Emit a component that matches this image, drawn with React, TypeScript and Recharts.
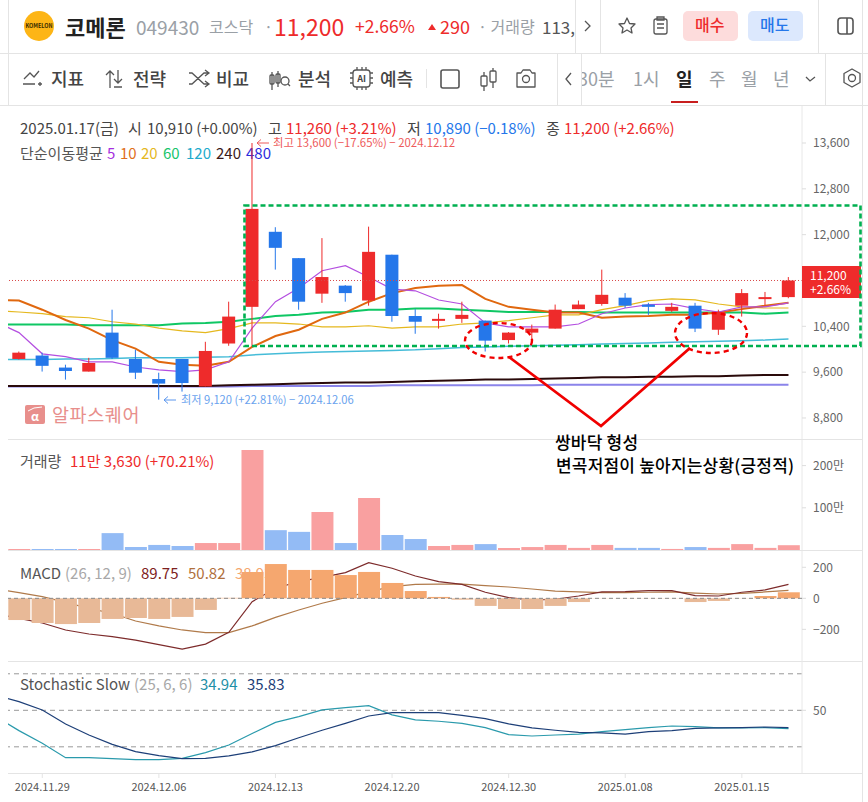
import React from "react";
import { ComposedChart, Bar, Line, Cell, XAxis, YAxis, ReferenceLine } from "recharts";

const FONT = '"Noto Sans CJK KR", "Noto Sans", sans-serif';
const RED = "#ee2b2b";
const BLUE = "#2577ea";

const dates = [
  "2024.11.28", "2024.11.29", "2024.12.02", "2024.12.03", "2024.12.04", "2024.12.05", "2024.12.06", "2024.12.09", "2024.12.10",
  "2024.12.11", "2024.12.12", "2024.12.13", "2024.12.16", "2024.12.17", "2024.12.18", "2024.12.19", "2024.12.20", "2024.12.23",
  "2024.12.24", "2024.12.26", "2024.12.27", "2024.12.30", "2025.01.02", "2025.01.03", "2025.01.06", "2025.01.07", "2025.01.08",
  "2025.01.09", "2025.01.10", "2025.01.13", "2025.01.14", "2025.01.15", "2025.01.16", "2025.01.17",
];
const opens = [9830, 9890, 9680, 9610, 10290, 9830, 9480, 9830, 9350, 10100, 10740, 12050, 11590, 10970, 11110, 10850, 11650, 10580, 10500, 10530, 10500, 10160, 10290, 10360, 10700, 10790, 10900, 10780, 10670, 10760, 10340, 10760, 10880, 10910];
const highs = [9960, 9940, 9730, 9850, 10690, 9990, 9590, 9830, 10130, 10830, 13600, 12130, 11590, 11940, 11120, 12140, 11650, 10700, 10620, 10830, 10500, 10300, 10430, 10780, 10850, 11390, 10980, 10810, 10810, 10810, 10690, 11050, 11000, 11260];
const lows = [9820, 9610, 9470, 9610, 9830, 9480, 9120, 9260, 9350, 10060, 10040, 11390, 10690, 10810, 10830, 10760, 10480, 10270, 10360, 10460, 9960, 10100, 10160, 10360, 10700, 10760, 10720, 10600, 10650, 10300, 10250, 10570, 10760, 10890];
const closes = [9940, 9710, 9620, 9760, 9850, 9590, 9400, 9410, 9970, 10570, 12450, 11770, 10830, 11260, 10980, 11700, 10580, 10480, 10530, 10600, 10150, 10290, 10360, 10690, 10780, 10950, 10760, 10740, 10740, 10360, 10650, 10980, 10910, 11200];
const volumes = [24000, 24000, 24000, 24000, 400000, 70000, 120000, 95000, 165000, 165000, 2370000, 470000, 430000, 900000, 165000, 1230000, 355000, 260000, 95000, 120000, 140000, 50000, 70000, 120000, 50000, 120000, 50000, 50000, 25000, 70000, 50000, 140000, 50000, 113630];
const hist = [-140, -159, -166, -159, -133, -127, -133, -120, -75, 3, 170, 221, 183, 183, 150, 170, 99, 47, 9, -9, -49, -69, -69, -49, -24, 1, 1, 1, 1, -24, -17, 1, 15, 38.93];

// moving averages and oscillators start one session before the first visible candle
const ma5 = [10480, 10290, 9920, 9870, 9780, 9780, 9690, 9640, 9610, 9640, 9780, 10370, 10830, 11070, 11370, 11460, 11260, 11050, 11020, 10860, 10790, 10460, 10390, 10390, 10390, 10440, 10620, 10720, 10780, 10790, 10710, 10650, 10740, 10740, 10810];
const ma10 = [10860, 10850, 10690, 10510, 10360, 10160, 10010, 9780, 9730, 9710, 9780, 10040, 10230, 10340, 10530, 10640, 10830, 10980, 11070, 11110, 11120, 10880, 10740, 10690, 10640, 10640, 10550, 10570, 10580, 10600, 10600, 10640, 10700, 10760, 10810];
const ma20 = [10670, 10650, 10620, 10570, 10550, 10480, 10440, 10370, 10320, 10290, 10360, 10460, 10460, 10440, 10390, 10390, 10410, 10370, 10390, 10390, 10440, 10460, 10500, 10550, 10600, 10600, 10690, 10760, 10850, 10880, 10860, 10790, 10740, 10720, 10720];
const ma60 = [10430, 10430, 10430, 10430, 10420, 10420, 10420, 10420, 10450, 10460, 10480, 10530, 10580, 10600, 10640, 10650, 10690, 10690, 10710, 10710, 10690, 10670, 10650, 10650, 10650, 10650, 10640, 10640, 10640, 10640, 10640, 10640, 10640, 10620, 10640];
const ma120 = [9820, 9820, 9820, 9830, 9830, 9840, 9850, 9850, 9850, 9860, 9870, 9900, 9920, 9940, 9950, 9960, 9970, 9980, 9990, 10010, 10030, 10040, 10050, 10060, 10070, 10080, 10090, 10100, 10110, 10120, 10130, 10140, 10150, 10160, 10180];
const ma240 = [9360, 9360, 9360, 9360, 9360, 9360, 9360, 9360, 9360, 9360, 9370, 9380, 9390, 9400, 9410, 9420, 9420, 9430, 9440, 9450, 9460, 9470, 9470, 9480, 9490, 9500, 9510, 9510, 9520, 9520, 9530, 9530, 9540, 9550, 9550];
const ma480 = [9350, 9350, 9350, 9350, 9350, 9350, 9350, 9350, 9350, 9350, 9350, 9360, 9360, 9360, 9360, 9360, 9360, 9370, 9370, 9370, 9370, 9370, 9370, 9370, 9380, 9380, 9380, 9380, 9380, 9380, 9380, 9380, 9380, 9380, 9380];
const macdLine = [-100, -129, -159, -204, -230, -247, -269, -299, -327, -295, -219, -22, 65, 108, 135, 166, 230, 194, 144, 108, 90, 39, 4, -11, -6, 15, 41, 43, 49, 49, 17, 15, 39, 54, 89.75];
const signalLine = [60, 37, 11, -26, -65, -97, -146, -178, -204, -221, -221, -178, -123, -75, -32, 4, 43, 75, 90, 92, 92, 82, 73, 60, 47, 41, 37, 37, 39, 41, 34, 28, 32, 41, 50.82];
const stochK = [44.8, 33.3, 22.9, 11.1, 11.1, 10.3, 9.5, 9.5, 10.5, 15.2, 21.5, 31, 40.1, 44.8, 50.3, 52.2, 53.8, 46.2, 42.1, 41, 39.3, 35.8, 30, 28.9, 29.7, 30.5, 32.5, 34.1, 35.8, 37.1, 36.6, 35.5, 35.5, 35.8, 34.94];
const stochD = [62.6, 57.1, 50.3, 38.8, 29.7, 22, 16, 12.7, 10.3, 10.5, 12.5, 15.8, 21, 27.5, 33.6, 39.3, 45.3, 48.1, 48.1, 48.1, 45.9, 43.2, 38.8, 35.5, 33.6, 31.9, 31.4, 30.5, 32.5, 33.3, 35.2, 35.5, 35.8, 36.3, 35.83];

const priceTicks = [8800, 9600, 10400, 11200, 12000, 12800, 13600];
const shownPriceTicks = [8800, 9600, 10400, 12000, 12800, 13600];
const volumeTicks = [1000000, 2000000];
const macdTicks = [-200, 0, 200];
const stochTicks = [50];
const stochLevels = [20, 50, 80];
const dateTicks = [1, 6, 11, 16, 21, 26, 31];
const lastPrice = priceTicks[3];

const rows = [-1, ...dates.map((_, i) => i)].map((i) => {
  const k = i + 1;
  const base = {
    i,
    ma5: ma5[k], ma10: ma10[k], ma20: ma20[k], ma60: ma60[k], ma120: ma120[k], ma240: ma240[k], ma480: ma480[k],
    macd: macdLine[k], signal: signalLine[k], k: stochK[k], d: stochD[k],
  };
  if (i < 0) return { ...base, range: null, volume: null, hist: null, open: null, high: null, low: null, close: null };
  return { ...base, range: [lows[i], highs[i]], volume: volumes[i], hist: hist[i], open: opens[i], high: highs[i], low: lows[i], close: closes[i] };
});

const Candle = (p: any) => {
  const { x, y, width, height, payload } = p;
  if (payload == null || payload.high == null) return null;
  const { open, close, high, low } = payload;
  const col = close >= open ? RED : BLUE;
  const h = Math.abs(height);
  const k = h / (high - low);
  const cx = x + width / 2;
  const top = y + (high - Math.max(open, close)) * k;
  const bh = Math.max(Math.abs(open - close) * k, 2);
  return (
    <g>
      <line x1={cx} x2={cx} y1={y} y2={y + h} stroke={col} strokeWidth={1} />
      <rect x={cx - 6.5} y={top} width={13} height={bh} fill={col} />
    </g>
  );
};

const W = 868;
const X_DOMAIN = [-0.47, 33.58];
const AXIS_W = 66;
const MARGIN = { top: 0, right: 0, bottom: 0, left: 8 };
const tickStyle = { fontSize: 12, fill: "#666", fontFamily: FONT };

const xHidden = <XAxis dataKey="i" type="number" domain={X_DOMAIN} allowDataOverflow hide />;
const yAxis = (domain: number[], ticks: number[], fmt: (v: number) => string) => (
  <YAxis
    orientation="right"
    width={AXIS_W}
    domain={domain}
    ticks={ticks}
    interval={0}
    allowDataOverflow
    tickFormatter={fmt}
    tick={tickStyle}
    tickSize={4}
    tickMargin={7}
    axisLine={{ stroke: "#e8e8e8" }}
    tickLine={{ stroke: "#ddd" }}
  />
);
const L = (key: string, color: string, w: number, z = 400) => (
  <Line dataKey={key} stroke={color} strokeWidth={w} dot={false} isAnimationActive={false} connectNulls zIndex={z} />
);

const T = ({ x, y, c = "#555", s = 15, w = 400, o = 1, children, ls = 0 }: any) => (
  <span
    style={{
      position: "absolute", left: x, top: y, transform: "translateY(-50%)", color: c, fontSize: s, fontWeight: w,
      opacity: o, whiteSpace: "nowrap", lineHeight: 1, letterSpacing: ls, fontFamily: FONT,
    }}
  >
    {children}
  </span>
);
const Rule = ({ x, y, w, h, c = "#e4e4e4" }: any) => (
  <div style={{ position: "absolute", left: x, top: y, width: w, height: h, background: c }} />
);

const IC = "#555";
const Icons = () => (
  <svg width={W} height={106} style={{ position: "absolute", left: 0, top: 0 }} fill="none" stroke={IC} strokeWidth={1.3}>
    <circle cx={39} cy={26} r={15} fill="#fdb516" stroke="none" />
    <text x={39} y={28} textAnchor="middle" fontSize={5.5} fontWeight={700} fill="#3a2c00" stroke="none" fontFamily={FONT}>KOMELON</text>
    <path d="M24 79 L30 73 L34 77 L39 71" />
    <path d="M23 84 H35 M38 84 H42 M40 82 V86" />
    <path d="M110 88 V71 M106 75 L110 71 L114 75 M118 70 V83 M114 79 L118 83 L122 79 M114 87 H122" />
    <path d="M189 73 H192 L204 84 H208 M189 84 H192 L204 73 H208 M205 70 L209 73 L205 76 M205 81 L209 84 L205 87" />
    <path d="M272 72 V90 M278 71 V87" />
    <rect x="270" y="75" width="4" height="9" rx="1" />
    <rect x="276" y="74" width="4" height="9" rx="1" />
    <circle cx={285} cy={81} r={4} />
    <path d="M288 84 L290 86" />
    <rect x="353" y="70" width="17" height="17" rx="3" />
    <path d="M350 73 H353 M350 78 H353 M350 83 H353 M370 73 H373 M370 78 H373 M370 83 H373 M357 67 V70 M362 67 V70 M366 67 V70 M357 87 V90 M362 87 V90 M366 87 V90" />
    <text x={361.5} y={82} textAnchor="middle" fontSize={9} fontWeight={700} fill="#444" stroke="none" fontFamily={FONT}>AI</text>
    <rect x="441" y="70" width="18" height="18" rx="2" strokeWidth={1.6} />
    <path d="M484 72 V91 M493 68 V88" />
    <rect x="481" y="76" width="6" height="10" rx="1" fill="#fff" />
    <rect x="490" y="71" width="6" height="11" rx="1" fill="#fff" />
    <path d="M517 73 H521 L523 70 H530 L532 73 H535 V87 H517 Z" strokeLinejoin="round" />
    <circle cx={526} cy={79} r={3.5} />
    <path d="M571 73 L566 79 L571 85" />
    <path d="M806 77 L810 81 L815 77" />
    <circle cx={852} cy={78} r={3.5} />
    <path d="M852 69 L860 73.5 V82.5 L852 87 L844 82.5 V73.5 Z" strokeLinejoin="round" />
    <path d="M585 21 L590 26 L585 31" />
    <path d="M627 18 L629.5 23.5 L635 24 L631 28 L632 33 L627 30 L622 33 L623 28 L619 24 L624.5 23.5 Z" strokeLinejoin="round" />
    <rect x="654" y="19" width="13" height="15" rx="2" />
    <path d="M657 17 H664 V20 H657 Z M657 24 H664 M657 28 H664" />
    <rect x="838" y="18" width="15" height="16" rx="3" strokeWidth={1.6} />
    <path d="M847 18 V34" strokeWidth={1.6} />
    <path d="M428 30 L432 24 L436 30 Z" fill={RED} stroke="none" />
  </svg>
);

const Header = () => (
  <>
    <Rule x={0} y={53} w={868} h={1} />
    <Rule x={0} y={105} w={868} h={1} />
    <Rule x={8} y={0} w={1} h={105} />
    <Rule x={862} y={0} w={1} h={802} />
    <Rule x={575} y={0} w={1} h={53} />
    <Rule x={600} y={0} w={1} h={53} />
    <Rule x={818} y={0} w={1} h={53} />
    <Rule x={557} y={54} w={1} h={51} />
    <Rule x={581} y={54} w={1} h={51} />
    <Rule x={825} y={54} w={1} h={51} />
    <Rule x={426} y={69} w={1} h={19} />
    <T x={65} y={26} c="#222" s={22} w={700}>코메론</T>
    <T x={136} y={26} c="#9aa0a6" s={19}>049430</T>
    <T x={209} y={26} c="#9aa0a6" s={16}>코스닥</T>
    <T x={264} y={26} c="#9aa0a6" s={16}>·</T>
    <T x={274} y={26} c={RED} s={23}>11,200</T>
    <T x={355} y={26} c={RED} s={17.5}>+2.66%</T>
    <T x={440} y={26} c={RED} s={18}>290</T>
    <T x={478} y={26} c="#9aa0a6" s={16}>· 거래량</T>
    <T x={542} y={26} c="#555" s={17}>113,</T>
    <div style={{ position: "absolute", left: 683, top: 11, width: 55, height: 30, background: "#fddcdc", borderRadius: 5 }} />
    <div style={{ position: "absolute", left: 748, top: 11, width: 55, height: 30, background: "#dce8fd", borderRadius: 5 }} />
    <T x={695} y={24} c={RED} s={16} w={500}>매수</T>
    <T x={760} y={24} c={BLUE} s={16} w={500}>매도</T>
    <T x={51} y={78} c="#444" s={18} w={500}>지표</T>
    <T x={133} y={78} c="#444" s={18} w={500}>전략</T>
    <T x={216} y={78} c="#444" s={18} w={500}>비교</T>
    <T x={298} y={78} c="#444" s={18} w={500}>분석</T>
    <T x={380} y={78} c="#444" s={18} w={500}>예측</T>
    <div style={{ position: "absolute", left: 582, top: 60, width: 40, height: 36, overflow: "hidden" }}>
      <T x={-4} y={18} c="#9aa0a6" s={18}>30분</T>
    </div>
    <T x={633} y={78} c="#9aa0a6" s={18}>1시</T>
    <T x={676} y={78} c="#222" s={18} w={700}>일</T>
    <Rule x={671} y={101} w={27} h={2} c="#c81e1e" />
    <T x={709} y={78} c="#9aa0a6" s={18}>주</T>
    <T x={741} y={78} c="#9aa0a6" s={18}>월</T>
    <T x={773} y={78} c="#9aa0a6" s={18}>년</T>

    <T x={20} y={127} c="#444">2025.01.17(금)</T>
    <T x={128} y={127} c="#444">시</T>
    <T x={147} y={127} c="#444">10,910 (+0.00%)</T>
    <T x={268} y={127} c="#444">고</T>
    <T x={286} y={127} c={RED}>11,260 (+3.21%)</T>
    <T x={407} y={127} c="#444">저</T>
    <T x={425} y={127} c={BLUE}>10,890 (−0.18%)</T>
    <T x={546} y={127} c="#444">종</T>
    <T x={564} y={127} c={RED}>11,200 (+2.66%)</T>

    <T x={20} y={152} c="#555">단순이동평균</T>
    <T x={107} y={152} c="#a52fe0">5</T>
    <T x={120} y={152} c="#e0701a">10</T>
    <T x={141} y={152} c="#e5b81e">20</T>
    <T x={163} y={152} c="#18c46c">60</T>
    <T x={186} y={152} c="#22aacc">120</T>
    <T x={216} y={152} c="#3a1a1a">240</T>
    <T x={246} y={152} c="#2b2bdc">480</T>

    <T x={20} y={460} c="#555">거래량</T>
    <T x={70} y={460} c={RED}>11만 3,630 (+70.21%)</T>

    <T x={20} y={572} c="#555">MACD</T>
    <T x={65} y={572} c="#a8a8a8">(26, 12, 9)</T>
    <T x={141} y={572} c="#7d2020">89.75</T>
    <T x={188} y={572} c="#b0703c">50.82</T>
    <T x={235} y={572} c="#f5a76f">38.93</T>

    <T x={20} y={683} c="#555">Stochastic Slow</T>
    <T x={134} y={683} c="#a8a8a8">(25, 6, 6)</T>
    <T x={200} y={683} c="#1f8fa6">34.94</T>
    <T x={247} y={683} c="#1d3f78">35.83</T>

    <Rule x={8} y={439} w={854} h={1} />
    <Rule x={8} y={550} w={854} h={1} />
    <Rule x={8} y={661} w={854} h={1} />
    <Rule x={8} y={773} w={854} h={1} />
  </>
);

const Overlay = () => (
  <>
    <T x={273} y={143} c="#ee5a5a" s={11.4}>최고 13,600 (−17.65%) − 2024.12.12</T>
    <T x={181} y={400} c="#6aa3ee" s={11.2}>최저 9,120 (+22.81%) − 2024.12.06</T>
    <T x={52} y={414} c="#e88f8c" s={18.5} ls={0.6}>알파스퀘어</T>
    <svg width={W} height={802} style={{ position: "absolute", left: 0, top: 0, pointerEvents: "none" }} fill="none">
      <path d="M269 143 H257 M261 139.5 L257 143 L261 146.5" stroke="#ee5a5a" strokeWidth={1} />
      <path d="M176 400 H164 M168 396.5 L164 400 L168 403.5" stroke="#5a96ee" strokeWidth={1} />
      <rect x={25} y={405} width={20} height={19} rx={2} fill="#e88f8c" />
      <text x={35} y={421} textAnchor="middle" fontSize={12} fontWeight={700} fill="#fff" fontFamily={FONT}>α</text>
      <path d="M28 411 L34 408 L42 407" stroke="#fff" strokeWidth={1} />
      <rect x={802} y={266} width={59} height={32} fill={RED} />
      <rect x={244.5} y={205.5} width={616} height={140.5} stroke="#00b050" strokeWidth={2.6} strokeDasharray="5 3" />
      <ellipse cx={498.5} cy={340.5} rx={33.5} ry={17.5} stroke="#f00000" strokeWidth={2.4} strokeDasharray="5 4" />
      <ellipse cx={711} cy={333} rx={36} ry={20} stroke="#f00000" strokeWidth={2.4} strokeDasharray="5 4" />
      <path d="M509 357 L601 426 L690 348" stroke="#f00000" strokeWidth={2.8} />
    </svg>
    <T x={810} y={275} c="#fff" s={12}>11,200</T>
    <T x={810} y={289} c="#fff" s={12}>+2.66%</T>
    <T x={555} y={441} c="#000" s={17} w={500} ls={0.2}>쌍바닥 형성</T>
    <T x={556} y={464} c="#000" s={17} w={500} ls={0.2}>변곡저점이 높아지는상황(긍정적)</T>
  </>
);

export default function App() {
  return (
    <div style={{ position: "absolute", left: 0, top: 0, width: W, height: 802, overflow: "hidden", background: "#fff", fontFamily: FONT }}>
      <Header />
      <Icons />

      <div style={{ position: "absolute", left: 0, top: 106 }}>
        <ComposedChart width={W} height={333} data={rows} margin={MARGIN}>
          {xHidden}
          {yAxis([8433, 14246], shownPriceTicks, (v) => v.toLocaleString("en-US"))}
          <ReferenceLine y={lastPrice} stroke="#d84a4a" strokeDasharray="1 2" />
          {L("ma480", "#8b84ea", 2, 200)}
          {L("ma240", "#2a0a0a", 2, 200)}
          {L("ma120", "#45bcd8", 1.5, 200)}
          {L("ma60", "#0fc764", 2, 200)}
          {L("ma20", "#e5b81e", 1.2, 200)}
          {L("ma10", "#e0680f", 2, 200)}
          {L("ma5", "#b44fe0", 1.2, 200)}
          <Bar dataKey="range" barSize={13} shape={Candle} isAnimationActive={false} zIndex={300} />
        </ComposedChart>
      </div>

      <div style={{ position: "absolute", left: 0, top: 440 }}>
        <ComposedChart width={W} height={110} data={rows} margin={MARGIN}>
          {xHidden}
          {yAxis([0, 2607000], volumeTicks, (v) => `${v / 10000}만`)}
          <Bar dataKey="volume" barSize={22} isAnimationActive={false}>
            {rows.map((r) => (
              <Cell key={r.i} fill={(r.close ?? 0) >= (r.open ?? 0) ? "#f9a0a0" : "#93bbf5"} />
            ))}
          </Bar>
        </ComposedChart>
      </div>

      <div style={{ position: "absolute", left: 0, top: 551 }}>
        <ComposedChart width={W} height={110} data={rows} margin={MARGIN}>
          {xHidden}
          {yAxis([-404, 305], macdTicks, (v) => (v < 0 ? `−${-v}` : `${v}`))}
          {L("signal", "#b07a4a", 1.2, 200)}
          {L("macd", "#7d2b2b", 1.2, 200)}
          <Bar dataKey="hist" barSize={22} isAnimationActive={false} zIndex={300}>
            {rows.map((r) => (
              <Cell key={r.i} fill={(r.hist ?? 0) >= 0 ? "#f5a76f" : "#e8b997"} />
            ))}
          </Bar>
          <ReferenceLine y={0} stroke="#888" strokeDasharray="4 3" zIndex={500} />
        </ComposedChart>
      </div>

      <div style={{ position: "absolute", left: 0, top: 661 }}>
        <ComposedChart width={W} height={141} data={rows} margin={MARGIN}>
          <XAxis
            dataKey="i"
            type="number"
            domain={X_DOMAIN}
            allowDataOverflow
            ticks={dateTicks}
            interval={0}
            height={29}
            tickFormatter={(v) => dates[v]}
            tick={{ fontSize: 11, fill: "#555", fontFamily: FONT }}
            tickSize={5}
            tickMargin={5}
            axisLine={false}
            tickLine={{ stroke: "#e4e4e4" }}
          />
          {yAxis([-1.5, 90.5], stochTicks, (v) => `${v}`)}
          {stochLevels.map((v) => (
            <ReferenceLine key={v} y={v} stroke="#999" strokeDasharray="5 4" />
          ))}
          {L("k", "#2a9aac", 1.2)}
          {L("d", "#1d3f78", 1.2)}
        </ComposedChart>
      </div>

      <Overlay />
    </div>
  );
}
